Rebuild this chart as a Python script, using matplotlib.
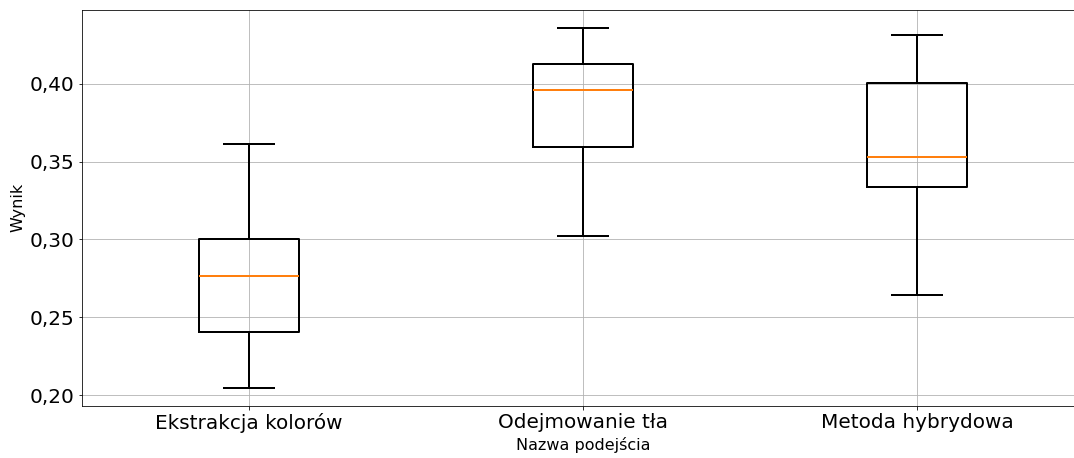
import matplotlib
matplotlib.use("Agg")
import matplotlib.pyplot as plt
from matplotlib.ticker import FuncFormatter

categories = ["Ekstrakcja kolorów", "Odejmowanie tła", "Metoda hybrydowa"]
whislo = [0.2047, 0.3021, 0.2641]
q1 = [0.2408, 0.3592, 0.3337]
med = [0.2767, 0.3962, 0.3532]
q3 = [0.3004, 0.4124, 0.4002]
whishi = [0.3611, 0.4359, 0.4310]

stats = [
    dict(label=c, whislo=lo, q1=a, med=m, q3=b, whishi=hi, fliers=[])
    for c, lo, a, m, b, hi in zip(categories, whislo, q1, med, q3, whishi)
]

DPI = 72
W, H = 1074, 458
fig = plt.figure(figsize=(W / DPI, H / DPI), dpi=DPI)
left, right, top, bottom = 81.5, 1084.5, 9.7, 406
ax = fig.add_axes([left / W, (H - bottom) / H, (right - left) / W, (bottom - top) / H])

lw = 2.0
ax.bxp(stats, widths=0.3,
       boxprops=dict(linewidth=lw, color="black"),
       whiskerprops=dict(linewidth=lw, color="black"),
       capprops=dict(linewidth=lw, color="black"),
       medianprops=dict(linewidth=lw, color="#ff7f0e"),
       showfliers=False)

ax.set_axisbelow(True)
ax.grid(True, color="#b0b0b0", linewidth=0.8)
ax.spines["right"].set_visible(False)
ax.yaxis.set_major_formatter(FuncFormatter(lambda v, p: f"{v:.2f}".replace(".", ",")))
ax.tick_params(axis="both", labelsize=20)
ax.set_xlabel("Nazwa podejścia", fontsize=16)
ax.set_ylabel("Wynik", fontsize=16)

fig.savefig("out.png", dpi=DPI)
